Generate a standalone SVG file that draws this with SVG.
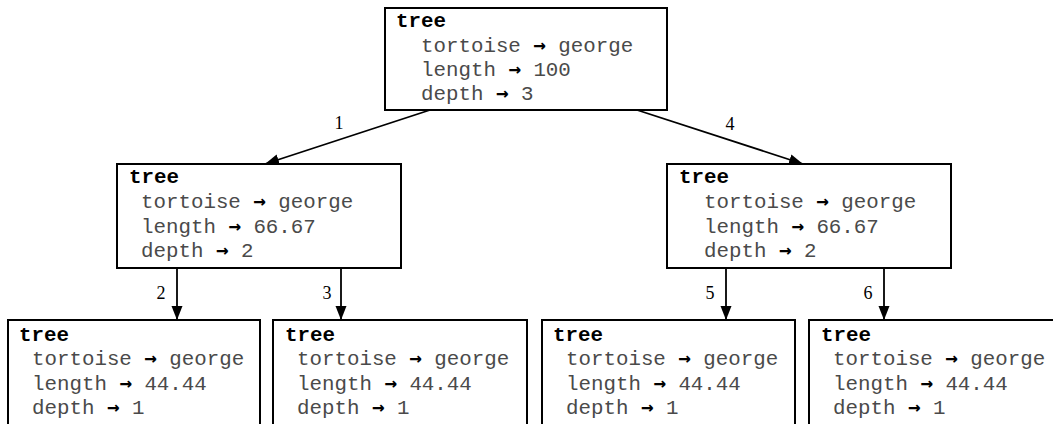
<svg xmlns="http://www.w3.org/2000/svg" width="1053" height="424" viewBox="0 0 1053 424">
  <style>
    .box { fill: #ffffff; stroke: #000000; stroke-width: 2; }
    .title { font-family: "Liberation Mono", "DejaVu Sans Mono", monospace; font-size: 20.8px; font-weight: bold; fill: #000000; }
    .field { font-family: "Liberation Mono", "DejaVu Sans Mono", monospace; font-size: 20.8px; fill: #4a4a4a; }
    .to { font-family: "DejaVu Sans Mono", monospace; font-weight: bold; fill: #000000; }
    .edge { stroke: #000000; stroke-width: 1.8; fill: none; marker-end: url(#arrow); }
    .lbl { font-family: "Liberation Serif", "Times New Roman", serif; font-size: 18px; fill: #000000; text-anchor: middle; }
  </style>
  <defs>
    <marker id="arrow" markerUnits="userSpaceOnUse" markerWidth="15" markerHeight="12" refX="14" refY="5.5" orient="auto">
      <path d="M0,0 L14,5.5 L0,11 z" fill="#000000"/>
    </marker>
  </defs>
  <rect width="1053" height="424" fill="#ffffff"/>

  <!-- connectors between frames -->
  <g id="connectors">
    <line class="edge" x1="430" y1="110" x2="265" y2="164"/>
    <line class="edge" x1="637" y1="110" x2="803" y2="164"/>
    <line class="edge" x1="177" y1="268" x2="177" y2="320"/>
    <line class="edge" x1="341" y1="268" x2="341" y2="320"/>
    <line class="edge" x1="726" y1="268" x2="726" y2="320"/>
    <line class="edge" x1="884" y1="268" x2="884" y2="320"/>
    <text class="lbl" x="339" y="129">1</text>
    <text class="lbl" x="730" y="130">4</text>
    <text class="lbl" x="161" y="299">2</text>
    <text class="lbl" x="327" y="299">3</text>
    <text class="lbl" x="710" y="299">5</text>
    <text class="lbl" x="868" y="299">6</text>
  </g>

  <!-- root frame -->
  <g id="tree-root">
    <rect class="box" x="385" y="8" width="282" height="102"/>
    <text class="title" x="396" y="27">tree</text>
    <text class="field" x="421" y="52">tortoise <tspan class="to">→</tspan> george</text>
    <text class="field" x="421" y="76">length <tspan class="to">→</tspan> 100</text>
    <text class="field" x="421" y="100">depth <tspan class="to">→</tspan> 3</text>
  </g>

  <!-- depth 2 frames -->
  <g id="tree-left">
    <rect class="box" x="117" y="164" width="284" height="104"/>
    <text class="title" x="129" y="183">tree</text>
    <text class="field" x="141" y="208">tortoise <tspan class="to">→</tspan> george</text>
    <text class="field" x="141" y="233">length <tspan class="to">→</tspan> 66.67</text>
    <text class="field" x="141" y="257">depth <tspan class="to">→</tspan> 2</text>
  </g>
  <g id="tree-right">
    <rect class="box" x="667" y="164" width="284" height="104"/>
    <text class="title" x="679" y="183">tree</text>
    <text class="field" x="704" y="208">tortoise <tspan class="to">→</tspan> george</text>
    <text class="field" x="704" y="233">length <tspan class="to">→</tspan> 66.67</text>
    <text class="field" x="704" y="257">depth <tspan class="to">→</tspan> 2</text>
  </g>

  <!-- depth 1 frames -->
  <g id="tree-ll">
    <rect class="box" x="8" y="320" width="252" height="120"/>
    <text class="title" x="19" y="341">tree</text>
    <text class="field" x="32" y="365">tortoise <tspan class="to">→</tspan> george</text>
    <text class="field" x="32" y="390">length <tspan class="to">→</tspan> 44.44</text>
    <text class="field" x="32" y="414">depth <tspan class="to">→</tspan> 1</text>
  </g>
  <g id="tree-lr">
    <rect class="box" x="273" y="320" width="254" height="120"/>
    <text class="title" x="285" y="341">tree</text>
    <text class="field" x="297" y="365">tortoise <tspan class="to">→</tspan> george</text>
    <text class="field" x="297" y="390">length <tspan class="to">→</tspan> 44.44</text>
    <text class="field" x="297" y="414">depth <tspan class="to">→</tspan> 1</text>
  </g>
  <g id="tree-rl">
    <rect class="box" x="542" y="320" width="253" height="120"/>
    <text class="title" x="553" y="341">tree</text>
    <text class="field" x="566" y="365">tortoise <tspan class="to">→</tspan> george</text>
    <text class="field" x="566" y="390">length <tspan class="to">→</tspan> 44.44</text>
    <text class="field" x="566" y="414">depth <tspan class="to">→</tspan> 1</text>
  </g>
  <g id="tree-rr">
    <rect class="box" x="809" y="320" width="260" height="120"/>
    <text class="title" x="821" y="341">tree</text>
    <text class="field" x="833" y="365">tortoise <tspan class="to">→</tspan> george</text>
    <text class="field" x="833" y="390">length <tspan class="to">→</tspan> 44.44</text>
    <text class="field" x="833" y="414">depth <tspan class="to">→</tspan> 1</text>
  </g>
</svg>
